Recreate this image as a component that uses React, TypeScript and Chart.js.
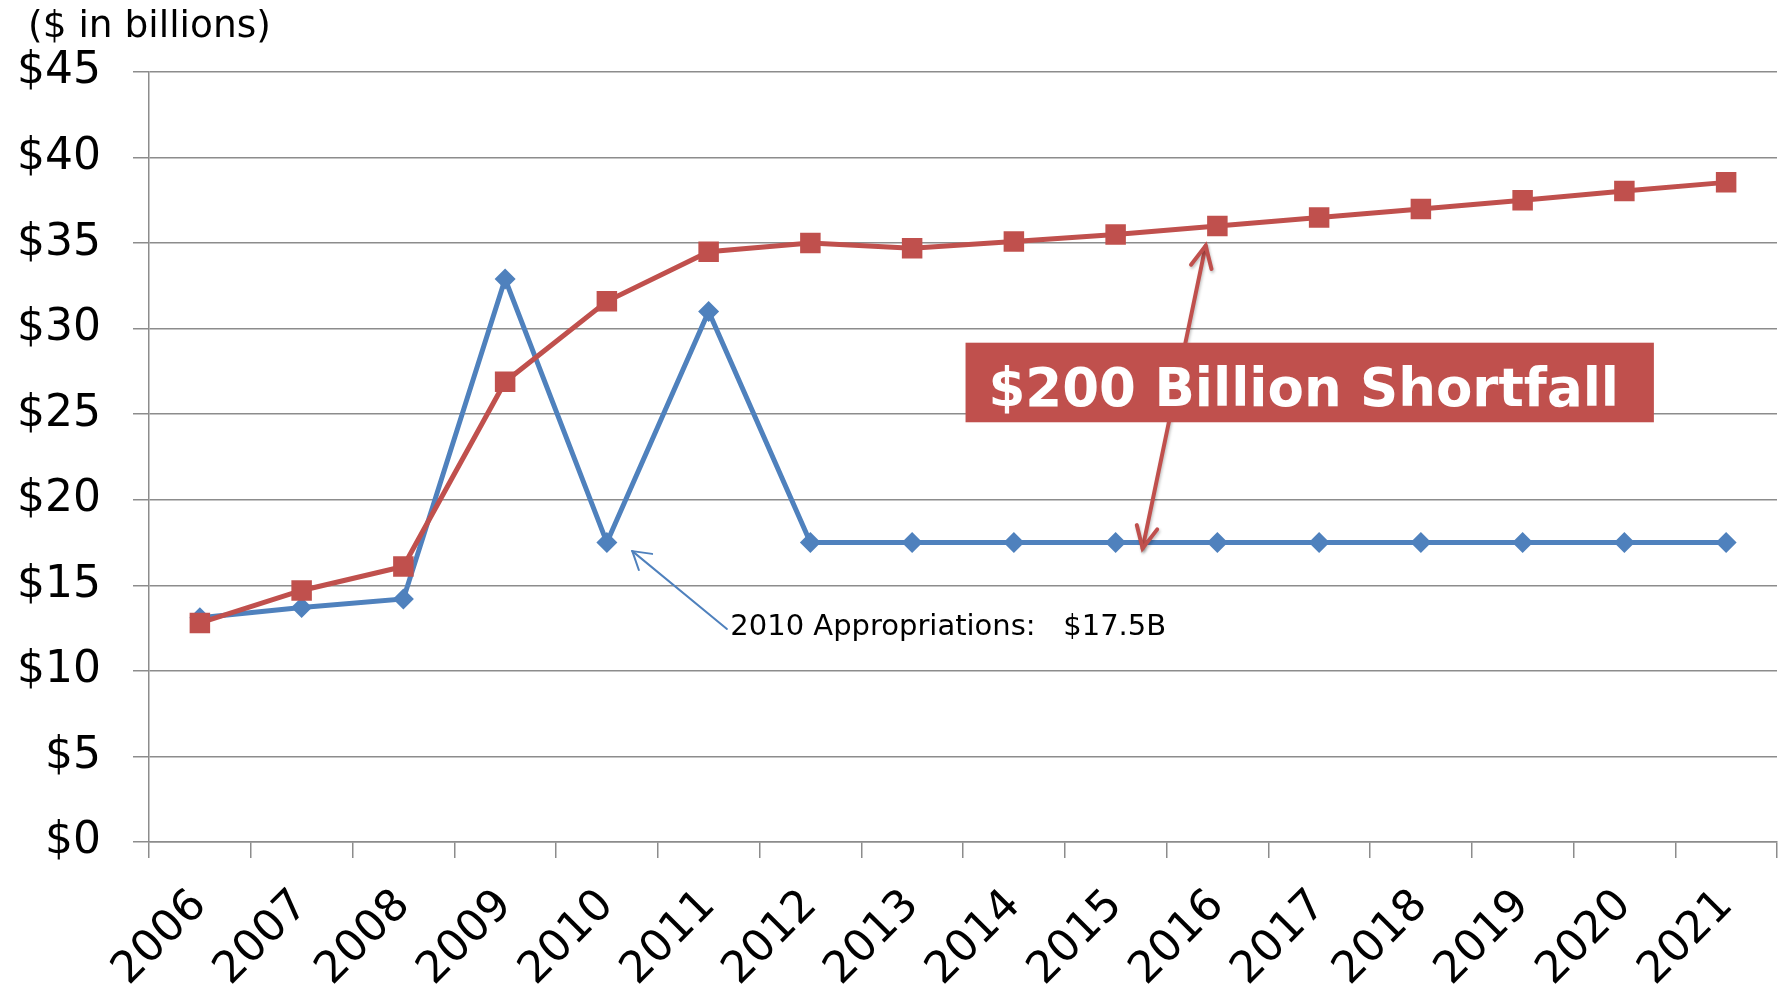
import React, { useEffect, useRef } from "react";
import { Chart, registerables } from "chart.js";

Chart.register(...registerables);

const years = ["2006", "2007", "2008", "2009", "2010", "2011", "2012", "2013", "2014", "2015", "2016", "2017", "2018", "2019", "2020", "2021"];
const appropriations = [13.1, 13.7, 14.2, 32.9, 17.5, 31.0, 17.5, 17.5, 17.5, 17.5, 17.5, 17.5, 17.5, 17.5, 17.5, 17.5];
const needs = [12.8, 14.7, 16.1, 26.9, 31.6, 34.5, 35.0, 34.7, 35.1, 35.5, 36.0, 36.5, 37.0, 37.5, 38.05, 38.55];
const yTicks = [0, 5, 10, 15, 20, 25, 30, 35, 40, 45];

const unitLabel = "($ in billions)";
const shortfallLabel = "$200 Billion Shortfall";
const noteLabel = "2010 Appropriations:   $17.5B";

const BLUE = "#4F81BD";
const RED = "#C0504D";
const GRID = "#8c8c8c";
const FONT = "'DejaVu Sans', Verdana, sans-serif";

function arrowHead(ctx: CanvasRenderingContext2D, tx: number, ty: number, fx: number, fy: number, len: number, half: number) {
  const ang = Math.atan2(fy - ty, fx - tx);
  ctx.beginPath();
  ctx.moveTo(tx + len * Math.cos(ang - half), ty + len * Math.sin(ang - half));
  ctx.lineTo(tx, ty);
  ctx.lineTo(tx + len * Math.cos(ang + half), ty + len * Math.sin(ang + half));
  ctx.stroke();
}

const annotations = {
  id: "annotations",
  afterDatasetsDraw(chart: any) {
    const ctx = chart.ctx as CanvasRenderingContext2D;
    const xs = chart.scales.x;
    const ys = chart.scales.y;
    const X = (v: number) => xs.getPixelForValue(v);
    const Y = (v: number) => ys.getPixelForValue(v);
    ctx.save();

    // blue note arrow
    const bTipX = X(4.25), bTipY = Y(17.0);
    const bTailX = X(5.18), bTailY = Y(12.45);
    ctx.strokeStyle = BLUE;
    ctx.lineWidth = 2;
    ctx.lineCap = "round";
    ctx.beginPath();
    ctx.moveTo(bTailX, bTailY);
    ctx.lineTo(bTipX, bTipY);
    ctx.stroke();
    arrowHead(ctx, bTipX, bTipY, bTailX, bTailY, 20, 0.55);

    ctx.fillStyle = "#000";
    ctx.font = `29px ${FONT}`;
    ctx.textAlign = "left";
    ctx.textBaseline = "middle";
    ctx.fillText(noteLabel, X(5.213), Y(12.55));

    // red double arrow
    const rTopX = X(9.885), rTopY = Y(34.85);
    const rBotX = X(9.265), rBotY = Y(17.16);
    ctx.strokeStyle = RED;
    ctx.lineWidth = 4;
    ctx.shadowColor = "rgba(0,0,0,0.25)";
    ctx.shadowBlur = 3;
    ctx.shadowOffsetX = 1;
    ctx.shadowOffsetY = 2;
    ctx.beginPath();
    ctx.moveTo(rTopX, rTopY);
    ctx.lineTo(rBotX, rBotY);
    ctx.stroke();
    arrowHead(ctx, rTopX, rTopY, rBotX, rBotY, 24, 0.45);
    arrowHead(ctx, rBotX, rBotY, rTopX, rTopY, 24, 0.45);
    ctx.shadowColor = "transparent";

    // shortfall box
    const bx0 = X(7.525), bx1 = X(14.29);
    const by0 = Y(29.18), by1 = Y(24.53);
    ctx.fillStyle = RED;
    ctx.fillRect(bx0, by0, bx1 - bx0, by1 - by0);
    ctx.fillStyle = "#fff";
    ctx.font = `bold 53px ${FONT}`;
    ctx.textAlign = "left";
    ctx.textBaseline = "alphabetic";
    ctx.fillText(shortfallLabel, X(7.75), Y(25.5));

    // unit label
    ctx.fillStyle = "#000";
    ctx.font = `37.5px ${FONT}`;
    ctx.fillText(unitLabel, 28, 37);
    ctx.restore();
  },
};

export default function App() {
  const ref = useRef<HTMLCanvasElement | null>(null);
  useEffect(() => {
    if (!ref.current) return;
    const chart = new Chart(ref.current, {
      type: "line",
      data: {
        labels: years,
        datasets: [
          {
            label: "Appropriations",
            data: appropriations,
            borderColor: BLUE,
            backgroundColor: BLUE,
            borderWidth: 5,
            pointStyle: "rectRot",
            pointRadius: 10.5,
            pointBorderWidth: 0,
            pointBackgroundColor: BLUE,
            tension: 0,
            order: 1,
          },
          {
            label: "Needs",
            data: needs,
            borderColor: RED,
            backgroundColor: RED,
            borderWidth: 5,
            pointStyle: "rect",
            pointRadius: 14.5,
            pointBorderWidth: 0,
            pointBackgroundColor: RED,
            tension: 0,
            order: 0,
          },
        ],
      },
      options: {
        animation: false,
        responsive: false,
        maintainAspectRatio: false,
        layout: { autoPadding: false, padding: { top: 72, right: 8, left: 0, bottom: 0 } },
        plugins: {
          legend: { display: false },
          tooltip: { enabled: false },
          title: { display: false },
        },
        scales: {
          x: {
            type: "category",
            offset: true,
            grid: {
              display: true,
              drawOnChartArea: false,
              drawTicks: true,
              tickLength: 16,
              offset: true,
              color: GRID,
              lineWidth: 1.5,
            },
            border: { display: true, color: GRID, width: 1.5 },
            ticks: {
              autoSkip: false,
              maxRotation: 45,
              minRotation: 45,
              padding: 22,
              color: "#000",
              font: { family: FONT, size: 44 },
            },
            afterFit(scale: any) {
              scale.height = 152;
              scale.paddingLeft = 0;
              scale.paddingRight = 0;
            },
          },
          y: {
            min: 0,
            max: 45,
            afterBuildTicks(scale: any) {
              scale.ticks = yTicks.map((v) => ({ value: v }));
            },
            grid: {
              color: GRID,
              lineWidth: 1.5,
              tickLength: 16,
              drawTicks: true,
            },
            border: { display: true, color: GRID, width: 1.5 },
            ticks: {
              padding: 32,
              color: "#000",
              font: { family: FONT, size: 44 },
              callback: (v: any) => "$" + v,
            },
            afterFit(scale: any) {
              scale.width = 149;
            },
          },
        },
      },
      plugins: [annotations],
    });
    return () => chart.destroy();
  }, []);
  return (
    <div style={{ position: "fixed", left: 0, top: 0, width: 1785, height: 994, background: "#fff" }}>
      <canvas ref={ref} width={1785} height={994} style={{ width: 1785, height: 994, display: "block" }} />
    </div>
  );
}
